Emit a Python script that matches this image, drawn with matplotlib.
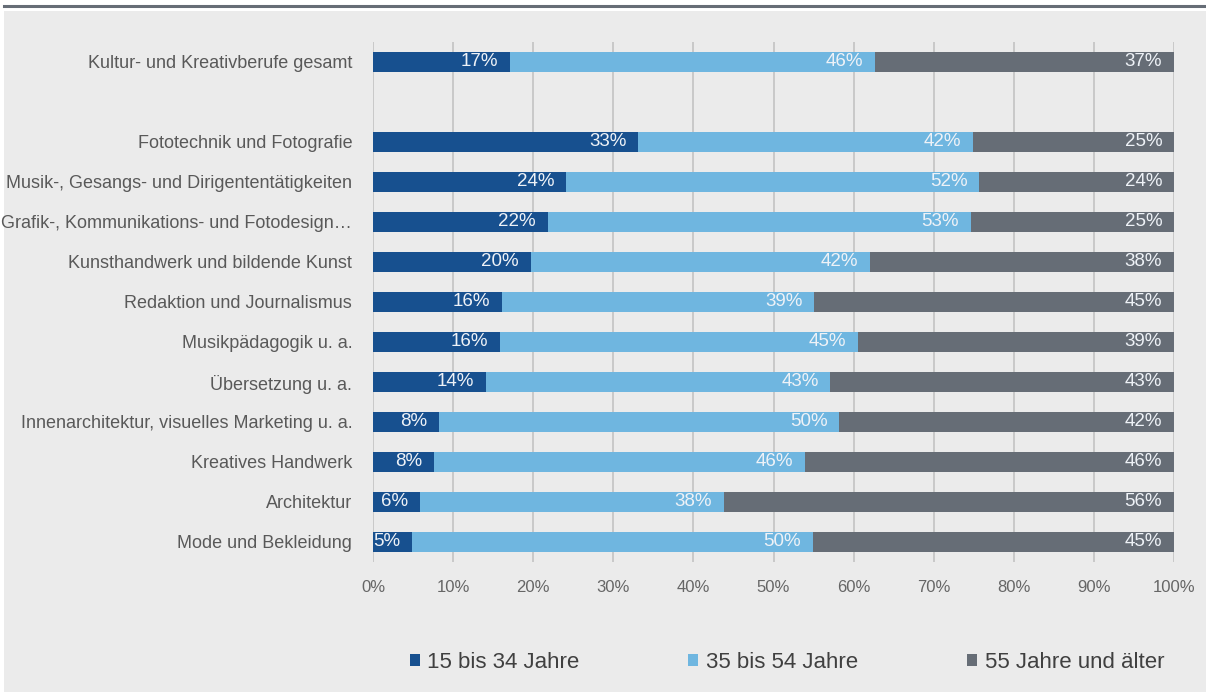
import numpy as np
import matplotlib
matplotlib.use("Agg")
import matplotlib.pyplot as plt
from matplotlib.patches import Rectangle, Patch
from matplotlib.lines import Line2D

# daten (anteile in %)
categories = [
    "Kultur- und Kreativberufe gesamt",
    "",
    "Fototechnik und Fotografie",
    "Musik-, Gesangs- und Dirigententätigkeiten",
    "Grafik-, Kommunikations- und Fotodesign…",
    "Kunsthandwerk und bildende Kunst",
    "Redaktion und Journalismus",
    "Musikpädagogik u. a.",
    "Übersetzung u. a.",
    "Innenarchitektur, visuelles Marketing u. a.",
    "Kreatives Handwerk",
    "Architektur",
    "Mode und Bekleidung",
]
age_15_34 = [17.1, 0, 33.1, 24.1, 21.8, 19.7, 16.1, 15.9, 14.1, 8.2, 7.6, 5.9, 4.9]
age_35_54 = [45.6, 0, 41.8, 51.6, 52.8, 42.4, 39.0, 44.7, 43.0, 50.0, 46.3, 37.9, 50.0]
age_55_up = [37.3, 0, 25.1, 24.3, 25.4, 37.9, 44.9, 39.4, 42.9, 41.8, 46.1, 56.2, 45.1]
series_names = ["15 bis 34 Jahre", "35 bis 54 Jahre", "55 Jahre und älter"]
colors = ["#17508f", "#6fb6e0", "#666d76"]

plt.rcParams['font.family'] = ['Liberation Sans', 'DejaVu Sans']

W, H = 1206, 692
fig = plt.figure(figsize=(W / 100, H / 100), dpi=100)
fig.patch.set_facecolor("white")

# hintergrund + linie oben
fig.patches.append(Rectangle((4 / W, 0), 1, (H - 11) / H, transform=fig.transFigure,
                             facecolor="#ebebeb", edgecolor="none", zorder=-10))
fig.lines.append(Line2D([4 / W, 1], [(H - 6) / H] * 2, transform=fig.transFigure,
                        color="#666d76", linewidth=2.2))

ax = fig.add_axes([373 / W, (H - 562) / H, (1174 - 373) / W, 520 / H])
ax.set_facecolor("none")

y = np.arange(len(categories))
series = [np.array(age_15_34), np.array(age_35_54), np.array(age_55_up)]
left = np.zeros(len(categories))
for vals, col, name in zip(series, colors, series_names):
    ax.barh(y, vals, left=left, height=0.48, color=col, label=name, zorder=3)
    for yi, l, v in zip(y, left, vals):
        if v > 0:
            ax.annotate(f"{round(v)}%", xy=(l + v, yi), xytext=(-8.5, 0),
                        textcoords="offset points", ha="right", va="center",
                        color="#eef2f7", fontsize=13.5, zorder=4)
    left = left + vals

ax.set_xlim(0, 100)
ax.set_ylim(len(categories) - 0.5, -0.5)
ax.set_xticks(np.arange(0, 101, 10))
ax.set_xticklabels([f"{t}%" for t in range(0, 101, 10)], fontsize=12, color="#666666")
ax.tick_params(axis="both", length=0)
ax.set_yticks(y)
ax.set_yticklabels(categories, fontsize=13, color="#595959")
ax.tick_params(axis="x", pad=13)
ax.tick_params(axis="y", pad=15)
ax.grid(axis="x", color="#bfbfbf", linewidth=1.1, zorder=0)
for s in ax.spines.values():
    s.set_visible(False)

# legende
handles = [Patch(facecolor=c, edgecolor="none") for c in colors]
fig.legend(handles, series_names, loc="center", bbox_to_anchor=(787 / W, 30 / H),
           ncol=3, frameon=False, fontsize=16, labelcolor="#404040",
           handlelength=0.45, handleheight=0.45, handletextpad=0.35, columnspacing=4.9)

plt.savefig("out.png", dpi=100)
